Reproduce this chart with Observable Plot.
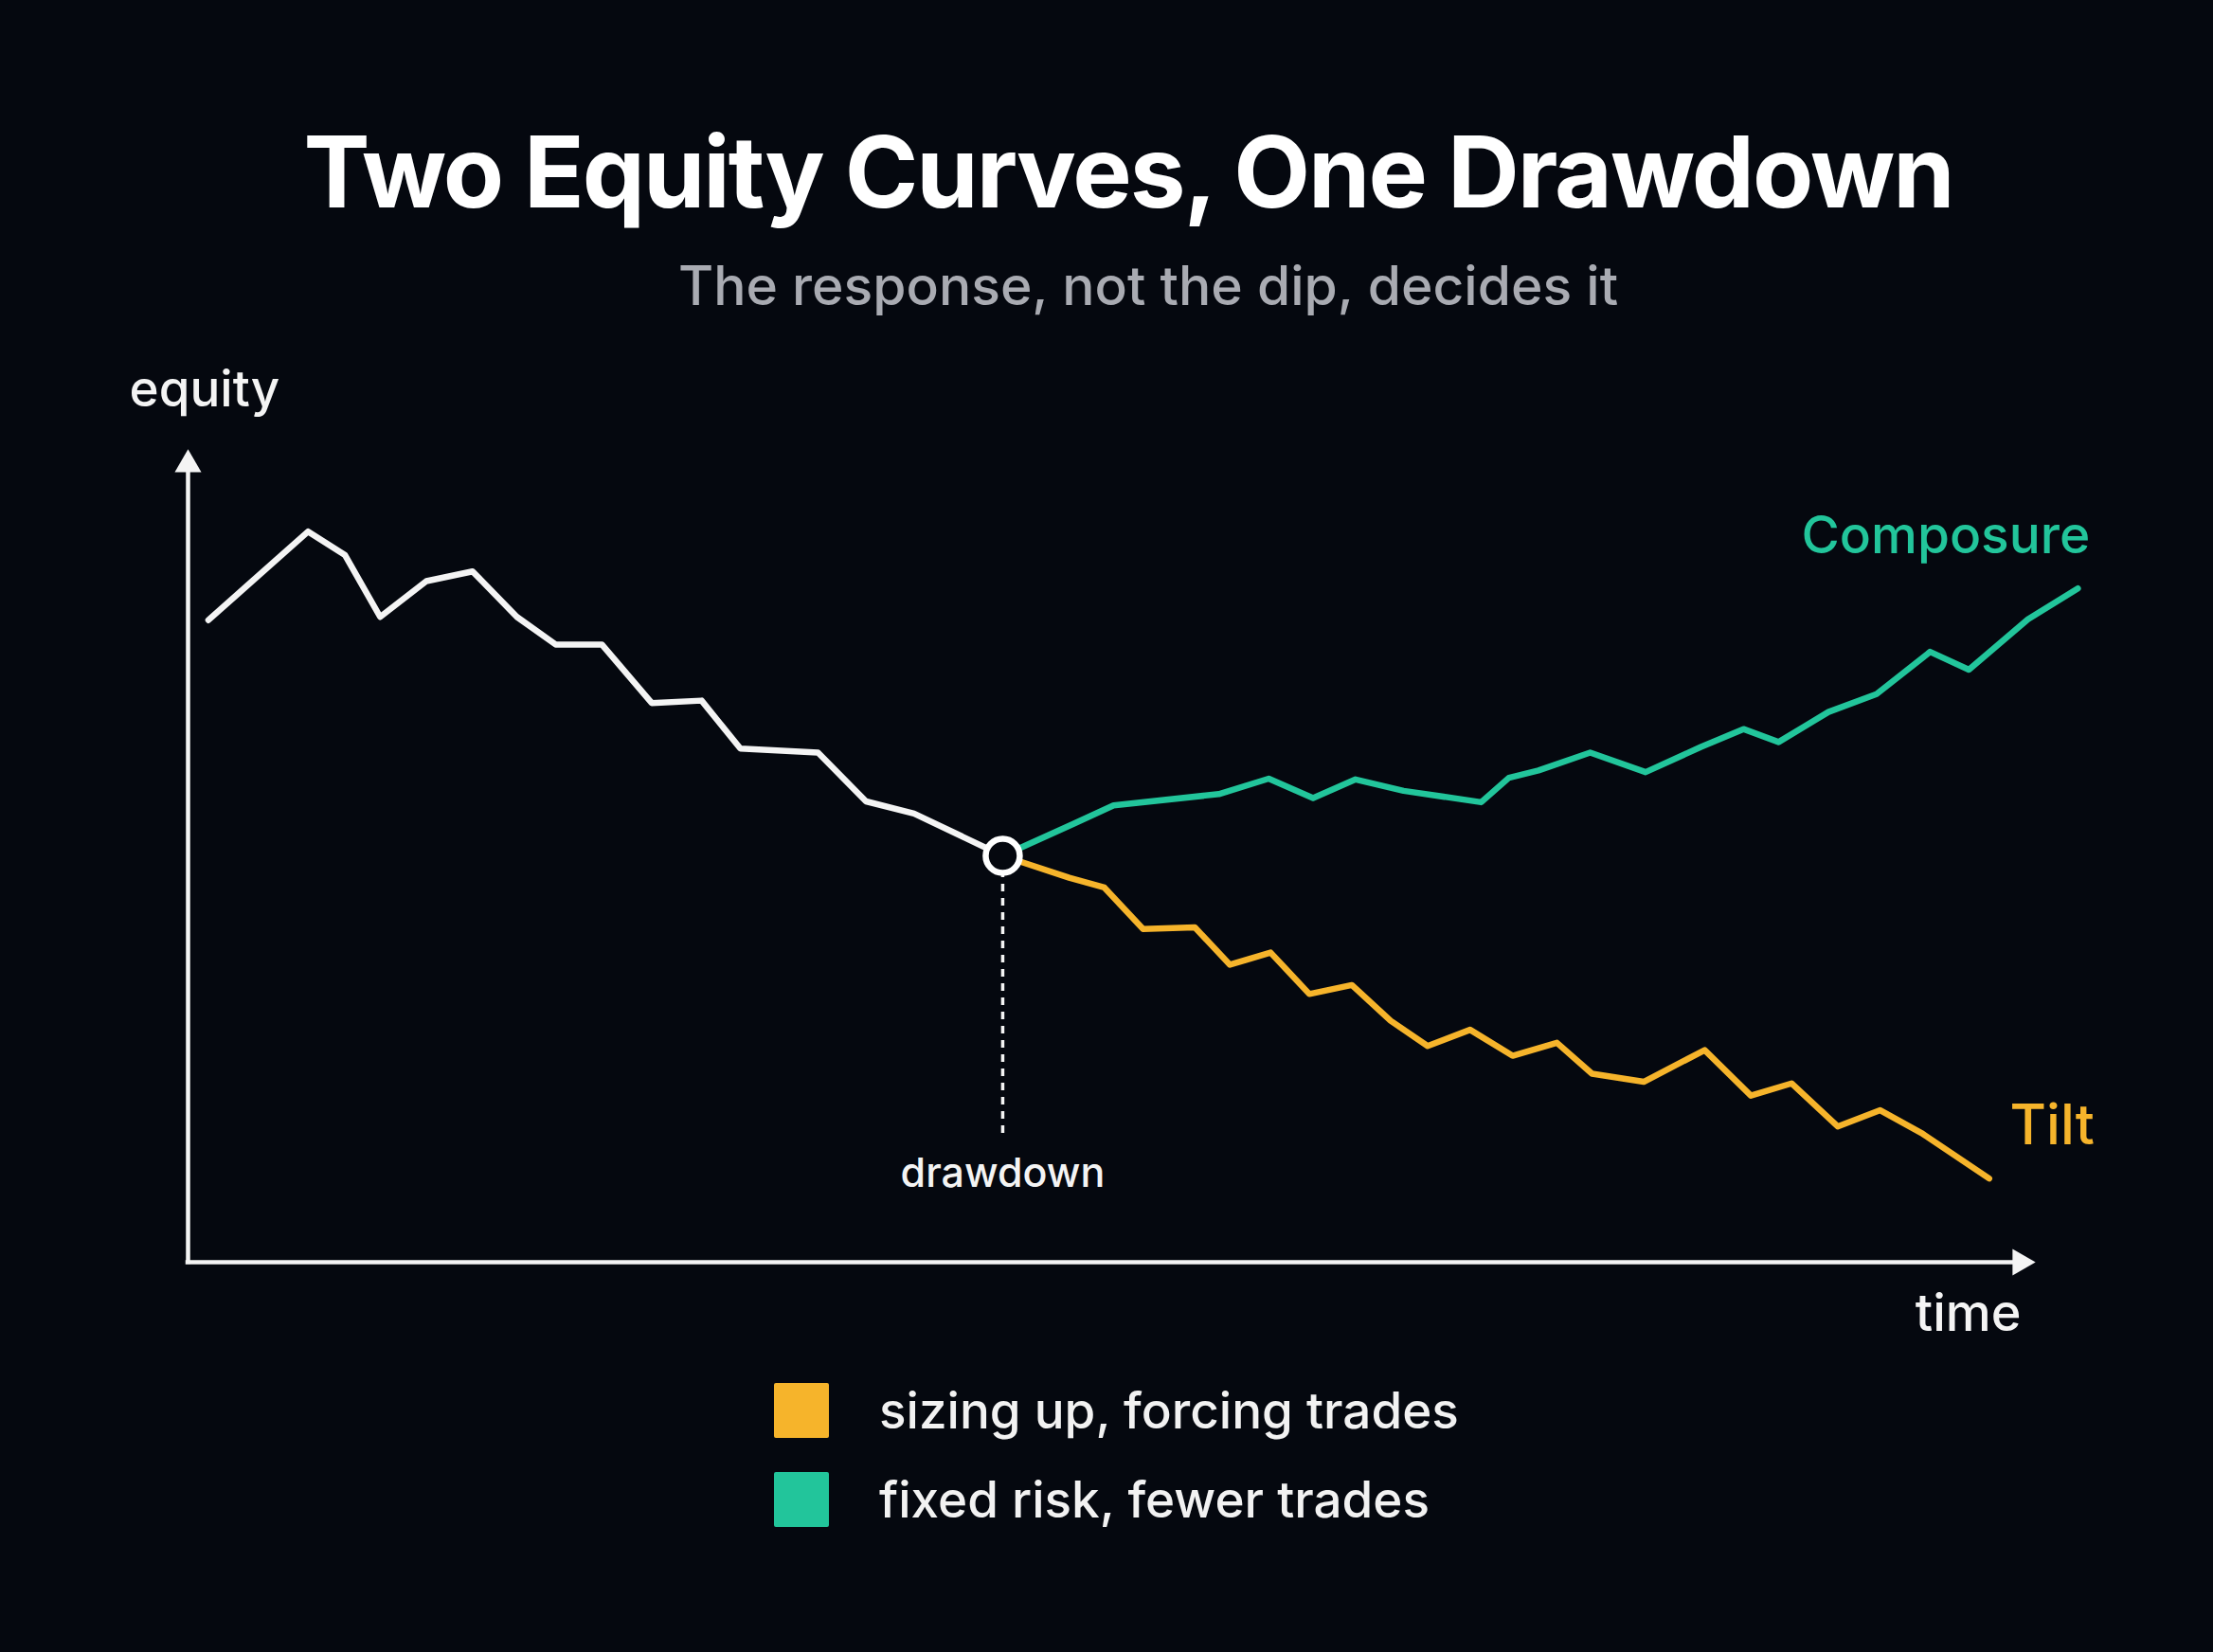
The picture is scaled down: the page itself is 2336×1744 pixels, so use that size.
<!DOCTYPE html>
<html>
<head>
<meta charset="utf-8">
<script src="https://cdn.jsdelivr.net/npm/d3@7"></script>
<script src="https://cdn.jsdelivr.net/npm/@observablehq/plot@0.6"></script>
<style>
  html, body { margin: 0; padding: 0; background: #05080f; }
  #page { position: relative; width: 2336px; height: 1744px; overflow: hidden;
          font-family: Inter, "Noto Sans", sans-serif; color: #fff; }
  #title { position: absolute; left: 0; width: 2382px; top: 128px; text-align: center;
           font-size: 105px; font-weight: 700; line-height: 1; letter-spacing: -2px; color: #ffffff; }
  #subtitle { position: absolute; left: 0; width: 2424px; top: 273px; text-align: center;
              font-size: 57px; font-weight: 500; line-height: 1; color: #a9abb2; }
  #chart { position: absolute; left: 0; top: 360px; }
  .legend-row { position: absolute; left: 817px; display: flex; align-items: center; gap: 53px;
                font-size: 53px; font-weight: 500; color: #f2f2f2; line-height: 1; }
  .swatch { width: 58px; height: 58px; border-radius: 2px; }
</style>
</head>
<body>
<div id="page">
  <div id="title">Two Equity Curves, One Drawdown</div>
  <div id="subtitle">The response, not the dip, decides it</div>
  <div id="chart"></div>
  <div class="legend-row" style="top:1460px"><div class="swatch" id="sw-tilt"></div><span></span></div>
  <div class="legend-row" style="top:1554px"><div class="swatch" id="sw-comp"></div><span></span></div>
</div>
<script>
// Equity path before the drawdown (time, equity in index points)
const preTime   = [1.1, 6.5, 8.5, 10.4, 12.9, 15.4, 17.8, 19.9, 22.4, 25.1, 27.8, 29.9, 34.1, 36.7, 39.3, 44.1];
const preEquity = [79.0, 89.9, 87.0, 79.4, 83.8, 85.0, 79.4, 76.0, 76.0, 68.8, 69.1, 63.2, 62.7, 56.7, 55.2, 50.0];

// "Tilt": sizing up and forcing trades after the drawdown
const tiltTime   = [44.1, 47.7, 49.6, 51.7, 54.5, 56.4, 58.6, 60.7, 63.0, 65.1, 67.1, 69.4, 71.7, 74.1, 76.0, 78.8, 82.1, 84.6, 86.8, 89.3, 91.6, 93.9, 97.5];
const tiltEquity = [50.0, 47.3, 46.1, 41.0, 41.2, 36.6, 38.1, 33.0, 34.1, 29.7, 26.6, 28.6, 25.4, 27.0, 23.2, 22.2, 26.1, 20.5, 22.0, 16.7, 18.7, 15.8, 10.3];

// "Composure": fixed risk, fewer trades after the drawdown
const composureTime   = [44.1, 47.9, 50.1, 55.8, 58.5, 60.9, 63.2, 65.8, 70.0, 71.5, 73.1, 75.9, 78.9, 81.9, 84.2, 86.1, 88.8, 91.4, 94.3, 96.4, 99.6, 102.3];
const composureEquity = [50.0, 53.9, 56.2, 57.6, 59.5, 57.1, 59.4, 58.0, 56.6, 59.6, 60.5, 62.7, 60.3, 63.4, 65.6, 64.0, 67.7, 69.9, 75.1, 72.9, 79.1, 82.9];

// The drawdown marker and the foot of its dotted guide
const drawdownTime = 44.1;
const drawdownEquity = 50.0;
const guideFoot = 15.5;

const seriesNames = ["Tilt", "Composure"];
const legendLabels = ["sizing up, forcing trades", "fixed risk, fewer trades"];

const BG = "#05080f";
const WHITE = "#f4f4f4";
const ORANGE = "#f6b42b";
const GREEN = "#22c59b";

const toRows = (ts, es) => ts.map((t, i) => ({time: t, equity: es[i]}));
const pre = toRows(preTime, preEquity);
const tilt = toRows(tiltTime, tiltEquity);
const composure = toRows(composureTime, composureEquity);
const drawdown = [{time: drawdownTime, equity: drawdownEquity}];

document.getElementById("sw-tilt").style.background = ORANGE;
document.getElementById("sw-comp").style.background = GREEN;

const chart = Plot.plot({
  width: 2336,
  height: 1060,
  marginLeft: 198,
  marginRight: 188,
  marginTop: 114,
  marginBottom: 88,
  style: {background: "transparent", fontFamily: "Inter, 'Noto Sans', sans-serif", overflow: "visible"},
  x: {domain: [0, 100], axis: null},
  y: {domain: [0, 100], axis: null},
  marks: [
    // axes with arrowheads
    Plot.ruleX([0], {y1: 0, y2: 98, stroke: WHITE, strokeWidth: 4.5, strokeLinecap: "square"}),
    Plot.ruleY([0], {x1: 0, x2: 99, stroke: WHITE, strokeWidth: 4.5, strokeLinecap: "square"}),
    Plot.dot([0], {x: 0, y: 100, symbol: "triangle2", r: 13.4, fill: WHITE, stroke: "none", dy: 16}),
    Plot.dot([0], {x: 100, y: 0, symbol: "triangle2", r: 13.4, fill: WHITE, stroke: "none", rotate: 90, dx: -16}),
    Plot.text(["equity"], {frameAnchor: "top-left", textAnchor: "start", dx: -62, dy: -83,
      fontSize: 53, fontWeight: 500, fill: WHITE}),
    Plot.text(["time"], {frameAnchor: "bottom-right", textAnchor: "end", dx: -15, dy: 72,
      fontSize: 54, fontWeight: 500, fill: WHITE}),

    // dotted guide below the drawdown point
    Plot.ruleX(drawdown, {x: "time", y1: "equity", y2: guideFoot, stroke: WHITE, strokeWidth: 3.5, strokeDasharray: "8,7"}),
    Plot.text(drawdown, {x: "time", y: guideFoot, text: () => "drawdown", dy: 40,
      fontSize: 43, fontWeight: 500, fill: WHITE}),

    // equity curves
    Plot.line(pre, {x: "time", y: "equity", stroke: WHITE, strokeWidth: 6.5, strokeLinejoin: "round", strokeLinecap: "round"}),
    Plot.line(tilt, {x: "time", y: "equity", stroke: ORANGE, strokeWidth: 6.5, strokeLinejoin: "round", strokeLinecap: "round"}),
    Plot.line(composure, {x: "time", y: "equity", stroke: GREEN, strokeWidth: 6.5, strokeLinejoin: "round", strokeLinecap: "round"}),

    // drawdown point
    Plot.dot(drawdown, {x: "time", y: "equity", r: 18, stroke: "#ffffff", strokeWidth: 6.5, fill: BG}),

    // series end labels
    Plot.text(tilt.slice(-1), {x: "time", y: "equity", text: () => seriesNames[0], textAnchor: "end",
      dx: 111, dy: -55, fontSize: 59, fontWeight: 500, fill: ORANGE}),
    Plot.text(composure.slice(-1), {x: "time", y: "equity", text: () => seriesNames[1], textAnchor: "end",
      dx: 13, dy: -55, fontSize: 55, fontWeight: 500, fill: GREEN})
  ]
});
document.getElementById("chart").appendChild(chart);
document.querySelectorAll(".legend-row span").forEach((el, i) => el.textContent = legendLabels[i]);
</script>
</body>
</html>
